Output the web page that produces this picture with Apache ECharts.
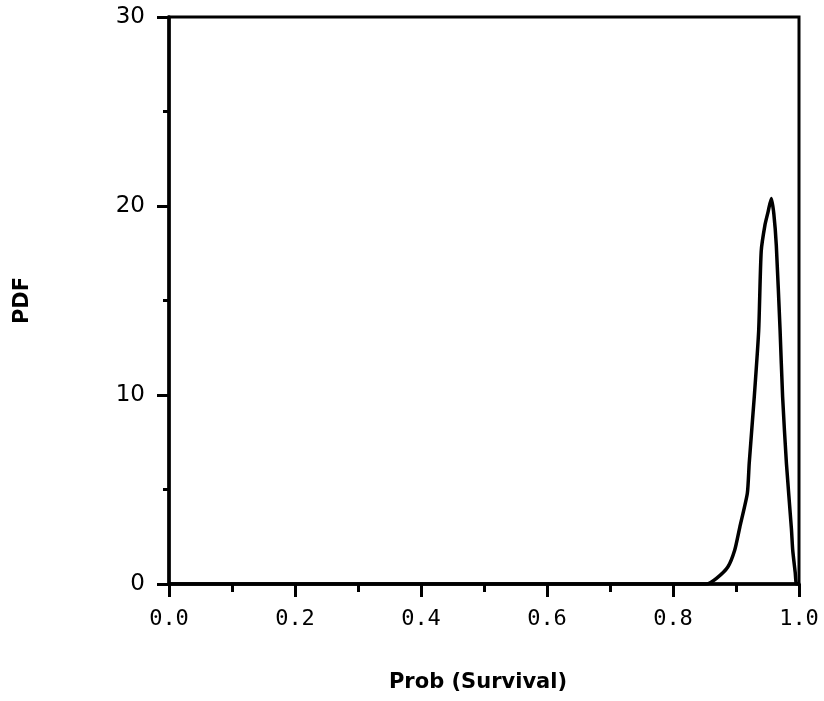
<!DOCTYPE html>
<html>
<head>
<meta charset="utf-8">
<script src="https://cdn.jsdelivr.net/npm/echarts@6/dist/echarts.min.js"></script>
<style>
html,body{margin:0;padding:0;background:#fff;}
#chart{width:824px;height:701px;}
</style>
</head>
<body>
<div id="chart"></div>
<script>
const xValues = [0, 0.853, 0.869, 0.887, 0.898, 0.906, 0.918, 0.921, 0.929, 0.936, 0.940, 0.946, 0.951, 0.956, 0.960, 0.964, 0.970, 0.974, 0.980, 0.988, 0.990, 0.994, 0.996, 1.0];
const pdfValues = [0, 0, 0.3, 0.9, 1.8, 3.0, 4.8, 6.4, 9.9, 13.4, 17.6, 19.0, 19.7, 20.4, 19.6, 17.9, 13.4, 9.9, 6.4, 2.9, 1.8, 0.6, 0, 0];
const xTicks = [0.0, 0.2, 0.4, 0.6, 0.8, 1.0];
const yTicks = [0, 10, 20, 30];
const xTitle = 'Prob (Survival)';
const yTitle = 'PDF';

const chart = echarts.init(document.getElementById('chart'));
chart.setOption({
  animation: false,
  backgroundColor: '#fff',
  grid: {left: 169, right: 25, top: 17, bottom: 117, show: true, borderColor: '#000', borderWidth: 3,
    containLabel: false, outerBoundsMode: 'none'},
  xAxis: {
    type: 'value', min: xTicks[0], max: xTicks[xTicks.length - 1], interval: 0.2,
    name: xTitle, nameLocation: 'middle', nameGap: 88,
    nameTextStyle: {fontFamily: 'DejaVu Sans', fontWeight: 'bold', fontSize: 21, color: '#000', padding: [0, 12, 0, 0]},
    axisLine: {show: true, lineStyle: {color: '#000', width: 3.5}},
    axisTick: {show: true, length: 13, lineStyle: {color: '#000', width: 3}},
    minorTick: {show: true, splitNumber: 2, length: 8, lineStyle: {color: '#000', width: 3}},
    splitLine: {show: false},
    axisLabel: {margin: 24, fontFamily: 'DejaVu Sans Mono', fontSize: 22, color: '#000',
      formatter: v => v.toFixed(1)}
  },
  yAxis: {
    type: 'value', min: yTicks[0], max: yTicks[yTicks.length - 1], interval: 10,
    name: yTitle, nameLocation: 'middle', nameGap: 136, nameRotate: 90,
    nameTextStyle: {fontFamily: 'DejaVu Sans', fontWeight: 'bold', fontSize: 21, color: '#000'},
    axisLine: {show: true, lineStyle: {color: '#000', width: 3.5}},
    axisTick: {show: true, length: 12, lineStyle: {color: '#000', width: 3}},
    minorTick: {show: true, splitNumber: 2, length: 6, lineStyle: {color: '#000', width: 3}},
    splitLine: {show: false},
    axisLabel: {margin: 24, fontFamily: 'DejaVu Sans', fontSize: 23, color: '#000'}
  },
  series: [{
    type: 'line',
    data: xValues.map((x, i) => [x, pdfValues[i]]),
    showSymbol: false,
    smooth: 0.2,
    lineStyle: {color: '#000', width: 3.5},
    z: 3
  }]
});
</script>
</body>
</html>
